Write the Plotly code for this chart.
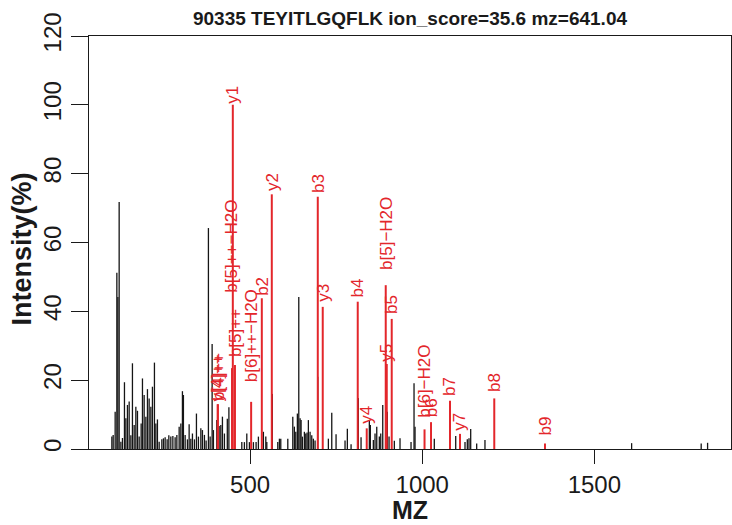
import plotly.graph_objects as go

# ---- data ----
black_mz = [98.4, 102.2, 108.0, 112.9, 115.9, 119.6, 124.6, 129.2, 135.0, 139.1, 143.7, 148.7,
            153.6, 158.2, 163.2, 168.1, 172.8, 177.7, 183.5, 187.3, 192.2, 197.2, 201.8, 206.7,
            211.7, 216.3, 222.1, 226.2, 230.8, 235.8, 243.6, 248.3, 253.2, 259.0, 263.9, 269.7,
            275.6, 282.2, 287.2, 293.9, 298.8, 303.4, 306.3, 311.3, 317.9, 322.9, 327.8, 332.5,
            338.3, 344.1, 349.9, 356.9, 361.5, 367.3, 372.2, 378.9, 383.9, 389.7, 393.4, 403.3,
            410.0, 414.9, 419.6, 425.4, 433.8, 438.4, 475.9, 483.4, 490.4, 498.0, 509.6, 517.4,
            524.1, 538.6, 545.6, 548.5, 564.7, 580.4, 585.1, 589.1, 609.5, 624.0, 628.6, 632.7,
            637.3, 641.4, 645.2, 648.1, 651.9, 657.7, 661.7, 665.5, 669.3, 674.2, 679.1, 683.8,
            688.7, 696.6, 727.4, 737.2, 749.7, 775.8, 782.5, 793.3, 814.5, 822.3, 846.4, 849.3,
            858.0, 862.9, 867.9, 875.4, 879.5, 885.3, 898.7, 903.6, 919.0, 935.5, 967.5, 976.2,
            979.1, 1035.1, 1097.3, 1124.3, 1131.0, 1135.9, 1140.8, 1158.2, 1182.3, 1608.3,
            1810.4, 1829.0]
black_int = [3.6, 4.1, 10.8, 51.2, 44.2, 71.8, 2.1, 3.2, 19.4, 8.9, 12.8, 13.8,
             4.0, 24.9, 7.0, 12.3, 11.1, 3.6, 7.4, 20.5, 15.7, 9.4, 17.4, 14.7,
             12.3, 18.1, 25.1, 7.4, 8.6, 2.1, 2.8, 3.1, 3.4, 2.8, 4.0, 3.6,
             3.8, 3.4, 4.1, 6.5, 7.4, 16.8, 15.7, 4.1, 2.8, 7.2, 3.0, 4.5,
             2.8, 10.3, 3.6, 6.0, 5.5, 4.1, 2.5, 64.2, 3.6, 30.5, 5.5, 8.4,
             6.7, 7.0, 9.4, 4.5, 8.8, 12.1, 2.0, 2.0, 4.5, 2.0, 2.0, 2.0,
             3.6, 5.0, 3.6, 2.0, 16.0, 2.0, 3.0, 3.0, 3.0, 9.4, 6.5, 5.0,
             10.3, 44.2, 8.9, 8.4, 3.6, 5.0, 4.5, 4.8, 8.4, 5.0, 4.0, 3.0,
             2.5, 21.0, 3.0, 10.5, 4.3, 2.5, 5.9, 1.4, 14.8, 3.4, 8.4, 7.0,
             2.6, 4.5, 6.5, 3.6, 4.5, 12.8, 10.8, 3.6, 2.4, 3.1, 2.0, 19.1,
             6.5, 3.0, 3.8, 2.0, 2.8, 3.1, 5.8, 1.6, 2.6, 1.7,
             1.6, 1.8]

ion_labels = ["b[4]++", "y[4]++", "b[5]++\u2212H2O", "y1", "b[5]++", "b[6]++\u2212H2O", "b2", "y2",
              "b3", "y3", "b4", "y4", "b[5]\u2212H2O", "y5", "b5", "b[6]\u2212H2O", "b6", "b7",
              "y7", "b8", "b9"]
ion_mz = [406.2, 406.2, 447.5, 449.8, 456.0, 503.0, 534.0, 563.0,
          696.6, 711.0, 812.7, 838.8, 894.0, 897.0, 911.4, 1006.7, 1025.6, 1080.7,
          1109.7, 1209.3, 1356.6]
ion_int = [13.0, 13.0, 23.5, 100.0, 24.4, 13.7, 43.8, 74.0,
           73.3, 41.3, 42.8, 6.0, 47.6, 24.7, 37.8, 5.7, 7.8, 14.0,
           4.4, 14.7, 1.6]
# vertical position where each label starts (data units)
label_pos = [13.6, 13.6, 45.0, 100.0, 26.4, 19.0, 44.3, 74.6,
             74.2, 42.4, 43.8, 7.0, 51.8, 25.0, 39.0, 8.8, 8.8, 15.0,
             5.0, 16.2, 3.8]

x_ticks = [500, 1000, 1500]
y_ticks = [0, 20, 40, 60, 80, 100, 120]

title_text = "90335 TEYITLGQFLK ion_score=35.6 mz=641.04"

RED = "#E3262B"
INK = "#1a1a1a"
FONT = "Liberation Sans, Arial, sans-serif"


def sticks(xs, ys):
    px, py = [], []
    for x, y in zip(xs, ys):
        px += [x, x, None]
        py += [0, y, None]
    return px, py


fig = go.Figure()
bx, by = sticks(black_mz, black_int)
fig.add_trace(go.Scatter(x=bx, y=by, mode="lines", line=dict(color="#151515", width=1.3),
                         hoverinfo="skip", showlegend=False))
rx, ry = sticks(ion_mz, ion_int)
fig.add_trace(go.Scatter(x=rx, y=ry, mode="lines", line=dict(color=RED, width=2),
                         hoverinfo="skip", showlegend=False))

for lab, m, ly in zip(ion_labels, ion_mz, label_pos):
    fig.add_annotation(x=m, y=ly, xref="x", yref="y", text=lab, textangle=-90,
                       xanchor="center", yanchor="bottom", showarrow=False,
                       font=dict(family=FONT, size=17, color=RED), borderpad=0)

fig.add_annotation(xref="paper", yref="paper", x=-0.1045, y=0.485, text="<b>Intensity(%)</b>",
                   textangle=-90, showarrow=False, xanchor="center", yanchor="middle",
                   font=dict(family=FONT, size=27, color=INK))
fig.add_annotation(xref="paper", yref="paper", x=0.5, y=-0.183, text="<b>MZ</b>",
                   showarrow=False, xanchor="center", yanchor="bottom", borderpad=0,
                   font=dict(family=FONT, size=25, color=INK))

fig.update_layout(
    width=732, height=525,
    margin=dict(l=89, r=1, t=36, b=76, autoexpand=False),
    paper_bgcolor="white", plot_bgcolor="white",
    title=dict(text="<b>" + title_text + "</b>", x=0.5, xref="paper", y=1 - 18 / 525,
               yref="container", xanchor="center", yanchor="middle",
               font=dict(family=FONT, size=19, color=INK)),
    xaxis=dict(range=[32, 1897], tickvals=x_ticks, ticks="outside", ticklen=14, tickwidth=1.4,
               tickcolor=INK, showline=True, mirror=True, linecolor=INK, linewidth=1.4,
               showgrid=False, zeroline=False, automargin=False,
               tickfont=dict(family=FONT, size=24, color=INK)),
    yaxis=dict(range=[0, 120], tickvals=y_ticks, ticks="outside", ticklen=17, tickwidth=1.4,
               tickcolor=INK, showline=True, mirror=True, linecolor=INK, linewidth=1.4,
               showgrid=False, zeroline=False, tickangle=-90, automargin=False,
               tickfont=dict(family=FONT, size=24, color=INK)),
)

fig.write_html("out.html", config={"displayModeBar": False},
               post_script="document.body.style.margin='0';document.body.style.overflow='hidden';")
